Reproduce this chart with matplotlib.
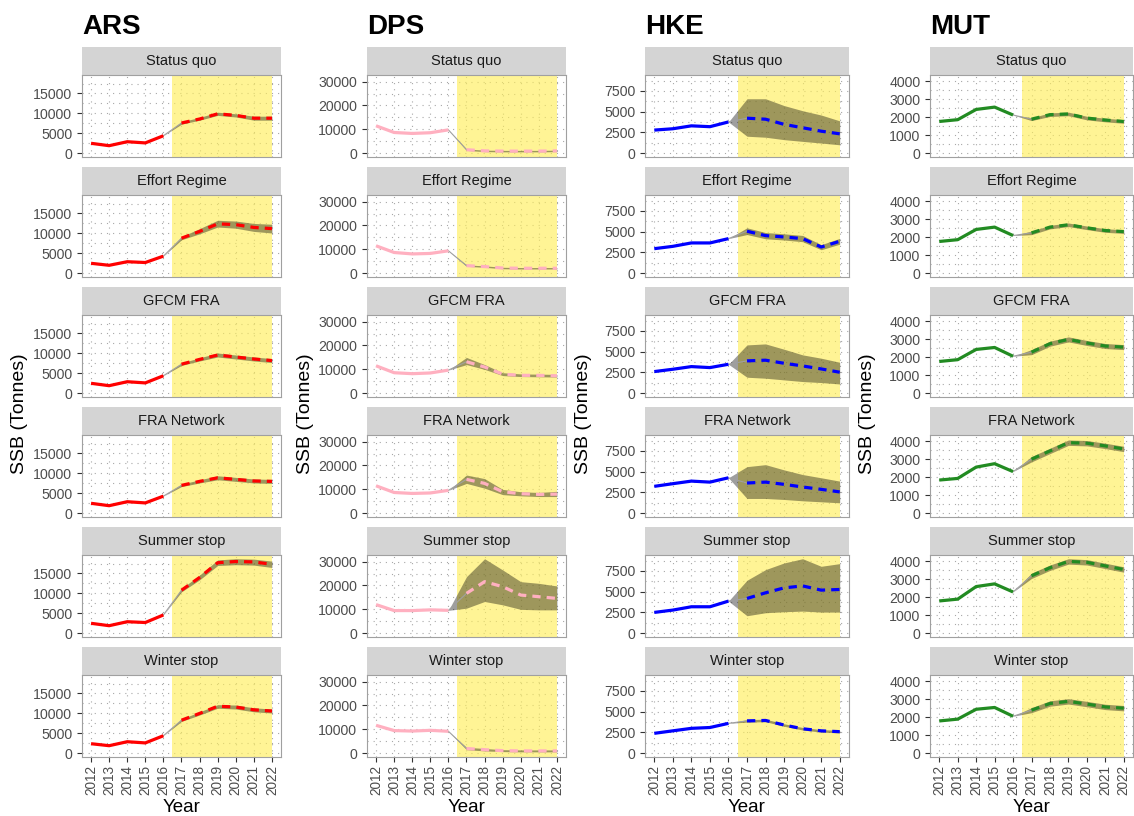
import matplotlib
matplotlib.use("Agg")
import matplotlib.pyplot as plt
import numpy as np

plt.rcParams['font.family'] = ['Liberation Sans', 'DejaVu Sans']

# ---------------- data ----------------
years_hist = [2012, 2013, 2014, 2015, 2016]
years_proj = [2017, 2018, 2019, 2020, 2021, 2022]
year_ticks = [2012, 2013, 2014, 2015, 2016, 2017, 2018, 2019, 2020, 2021, 2022]
scenarios = ["Status quo", "Effort Regime", "GFCM FRA", "FRA Network", "Summer stop", "Winter stop"]
species = ["ARS", "DPS", "HKE", "MUT"]
species_colors = ["#FF0000", "#FFB0C0", "#0000FF", "#228B22"]

# ARS (rows = scenarios)
ARS_hist = [[2500, 1900, 2900, 2600, 4400],
            [2500, 2000, 2900, 2700, 4300],
            [2500, 1900, 2900, 2600, 4400],
            [2500, 1900, 2900, 2600, 4300],
            [2500, 1900, 2900, 2700, 4600],
            [2400, 1900, 2900, 2600, 4400]]
ARS_mean = [[7600, 8600, 9900, 9500, 8800, 8800],
            [8800, 10500, 12400, 12200, 11500, 11200],
            [7300, 8500, 9600, 9100, 8600, 8200],
            [7000, 8000, 8900, 8500, 8100, 8000],
            [10800, 14000, 17700, 18000, 17900, 17300],
            [8300, 10000, 11800, 11600, 10900, 10600]]
ARS_lo = [[7300, 8300, 9500, 9100, 8300, 8300],
          [8400, 9900, 11600, 11300, 10500, 10100],
          [7000, 8100, 9100, 8600, 8100, 7700],
          [6700, 7600, 8400, 8000, 7600, 7500],
          [10400, 13400, 17000, 17200, 17100, 16500],
          [8000, 9600, 11300, 11100, 10400, 10100]]
ARS_hi = [[7900, 9000, 10300, 9900, 9300, 9300],
          [9200, 11200, 13300, 13100, 12500, 12300],
          [7600, 8900, 10100, 9600, 9100, 8700],
          [7300, 8400, 9400, 9000, 8600, 8500],
          [11200, 14600, 18400, 18700, 18600, 18100],
          [8600, 10400, 12200, 12100, 11400, 11100]]

# DPS
DPS_hist = [[11500, 8700, 8300, 8600, 9800],
            [11500, 8700, 8100, 8300, 9400],
            [11500, 8600, 8200, 8500, 9700],
            [11500, 8700, 8300, 8500, 9600],
            [12000, 9500, 9500, 9800, 9600],
            [11700, 9500, 9300, 9600, 9200]]
DPS_mean = [[1500, 1000, 900, 900, 900, 1000],
            [3200, 2800, 2200, 2100, 2100, 2100],
            [13200, 11000, 8000, 7500, 7500, 7300],
            [14200, 12500, 9000, 8200, 7900, 8000],
            [16700, 21600, 19500, 16000, 15300, 14600],
            [2000, 1500, 1100, 1000, 1000, 1000]]
DPS_lo = [[1200, 700, 600, 600, 600, 700],
          [2900, 2500, 1900, 1800, 1800, 1800],
          [12000, 10000, 7400, 7000, 6900, 6800],
          [12500, 10500, 7800, 7300, 7000, 7000],
          [10500, 13300, 11900, 10000, 9800, 9800],
          [1500, 1000, 700, 600, 600, 600]]
DPS_hi = [[1800, 1300, 1200, 1200, 1200, 1300],
          [3500, 3100, 2500, 2400, 2400, 2400],
          [15000, 12000, 8600, 8100, 8000, 7900],
          [16000, 14500, 10000, 9000, 8700, 9200],
          [23700, 31200, 26500, 21600, 20900, 19800],
          [2500, 2000, 1500, 1400, 1400, 1400]]

# HKE
HKE_hist = [[2790, 2950, 3300, 3200, 3770],
            [2960, 3240, 3650, 3650, 4170],
            [2610, 2890, 3210, 3090, 3490],
            [3240, 3560, 3870, 3750, 4270],
            [2510, 2790, 3190, 3190, 3870],
            [2400, 2700, 3000, 3100, 3600]]
HKE_mean = [[4220, 4100, 3480, 3070, 2660, 2340],
            [5060, 4530, 4370, 4170, 3160, 3850],
            [3900, 3980, 3610, 3290, 2930, 2530],
            [3640, 3750, 3480, 3160, 2880, 2570],
            [4190, 4870, 5460, 5700, 5190, 5270],
            [3900, 3950, 3400, 2950, 2700, 2600]]
HKE_lo = [[2050, 1930, 1640, 1430, 1230, 1020],
          [4660, 4150, 4000, 3800, 2830, 3500],
          [1930, 1810, 1610, 1410, 1290, 1120],
          [1780, 1780, 1660, 1500, 1380, 1260],
          [2110, 2470, 2590, 2670, 2550, 2550],
          [3750, 3800, 3250, 2800, 2550, 2450]]
HKE_hi = [[6560, 6560, 5740, 5120, 4600, 3900],
          [5470, 4900, 4750, 4550, 3440, 4200],
          [5820, 5940, 5300, 4620, 4220, 3730],
          [5610, 5850, 5220, 4660, 4270, 3870],
          [6380, 7660, 8460, 8970, 8060, 8380],
          [4050, 4100, 3550, 3100, 2850, 2750]]

# MUT
MUT_hist = [[1770, 1870, 2440, 2570, 2130],
            [1770, 1870, 2440, 2570, 2100],
            [1770, 1870, 2440, 2550, 2060],
            [1850, 1940, 2570, 2760, 2320],
            [1800, 1900, 2600, 2750, 2300],
            [1800, 1900, 2450, 2550, 2060]]
MUT_mean = [[1900, 2150, 2190, 1960, 1850, 1770],
            [2250, 2570, 2700, 2530, 2380, 2320],
            [2290, 2760, 3000, 2800, 2630, 2570],
            [3010, 3470, 3930, 3900, 3750, 3580],
            [3200, 3650, 4000, 3950, 3750, 3550],
            [2400, 2770, 2890, 2740, 2580, 2510]]
MUT_lo = [[1820, 2050, 2090, 1860, 1750, 1670],
          [2150, 2470, 2600, 2430, 2280, 2220],
          [2150, 2620, 2860, 2660, 2490, 2430],
          [2860, 3320, 3780, 3750, 3600, 3430],
          [3050, 3500, 3850, 3800, 3600, 3400],
          [2260, 2620, 2740, 2590, 2430, 2360]]
MUT_hi = [[1980, 2250, 2290, 2060, 1950, 1870],
          [2350, 2670, 2800, 2630, 2480, 2420],
          [2430, 2900, 3140, 2940, 2770, 2710],
          [3160, 3620, 4080, 4050, 3900, 3730],
          [3350, 3800, 4150, 4100, 3900, 3700],
          [2540, 2920, 3040, 2890, 2730, 2660]]

all_hist = [ARS_hist, DPS_hist, HKE_hist, MUT_hist]
all_mean = [ARS_mean, DPS_mean, HKE_mean, MUT_mean]
all_lo = [ARS_lo, DPS_lo, HKE_lo, MUT_lo]
all_hi = [ARS_hi, DPS_hi, HKE_hi, MUT_hi]
y_ticks = [[0, 5000, 10000, 15000],
           [0, 10000, 20000, 30000],
           [0, 2500, 5000, 7500],
           [0, 1000, 2000, 3000, 4000]]

# ---------------- layout (pixels) ----------------
W, H = 1134, 816
fig = plt.figure(figsize=(W / 100, H / 100), dpi=100)
fig.patch.set_facecolor("white")

col_left = [82, 367, 645, 930]
col_w = [199, 199, 204, 203]
row_top0 = 47
row_pitch = 120
strip_h = 28
plot_h = 82


def fax(x, y, w, h):
    return fig.add_axes([x / W, 1 - (y + h) / H, w / W, h / H])


for c, sp in enumerate(species):
    col = species_colors[c]
    hi_all = np.array(all_hi[c]).max()
    hist_all = np.array(all_hist[c]).max()
    ymax = max(hi_all, hist_all)
    ylim = (-0.05 * ymax, 1.05 * ymax)
    for r, sc in enumerate(scenarios):
        top = row_top0 + r * row_pitch
        # strip
        sax = fax(col_left[c], top, col_w[c], strip_h)
        sax.set_facecolor("#D4D4D4")
        sax.set_xticks([]); sax.set_yticks([])
        for s in sax.spines.values():
            s.set_visible(False)
        sax.text(0.5, 0.5, sc, ha="center", va="center", fontsize=10.5, color="#1A1A1A",
                 transform=sax.transAxes)

        ax = fax(col_left[c], top + strip_h, col_w[c], plot_h)
        ax.set_facecolor("white")
        ax.set_xlim(2011.5, 2022.5)
        ax.set_ylim(*ylim)
        ax.set_xticks(year_ticks)
        ax.set_yticks(y_ticks[c])
        yt = y_ticks[c]
        step = yt[1] - yt[0]
        ax.set_yticks([v + step / 2 for v in yt if v + step / 2 < ylim[1]], minor=True)
        ax.grid(True, which="both", axis="both", color="#A8A8A8", linestyle=(0, (1, 4.5)), linewidth=0.8)
        ax.set_axisbelow(True)
        ax.tick_params(axis="y", which="minor", length=0)
        ax.tick_params(axis="both", which="major", direction="out", length=3.5, width=0.8,
                       color="#333333", labelcolor="#4D4D4D", labelsize=10.2)
        for s in ax.spines.values():
            s.set_color("#A0A0A0")
            s.set_linewidth(0.8)

        ax.axvspan(2016.5, 2022, color="#FFEE55", alpha=0.62, lw=0, zorder=1.5)

        h = all_hist[c][r]
        m = all_mean[c][r]
        lo = all_lo[c][r]
        hi = all_hi[c][r]
        rx = [years_hist[-1]] + years_proj
        ax.fill_between(rx, [h[-1]] + lo, [h[-1]] + hi, color="black", alpha=0.38, lw=0, zorder=2)
        ax.plot([years_hist[-1], years_proj[0]], [h[-1], m[0]], color="#A0A0A0", lw=0.8, zorder=3)
        ax.plot(years_hist, h, color=col, lw=2.3, solid_capstyle="butt", zorder=4)
        ax.plot(years_proj, m, color=col, lw=2.3, dashes=(2.6, 1.9), zorder=4)

        if r == len(scenarios) - 1:
            ax.set_xticklabels([str(y) for y in year_ticks], rotation=90)
            ax.tick_params(axis="x", labelsize=9.8, pad=2)
        else:
            ax.tick_params(axis="x", which="both", length=0, labelbottom=False)

    # column title
    fig.text(col_left[c] / W, 1 - 34 / H, sp, fontsize=20, fontweight="bold", ha="left",
             va="baseline", color="black")
    # y label
    fig.text((col_left[c] - 62) / W, 1 - 414 / H, "SSB (Tonnes)", rotation=90, fontsize=14,
             ha="center", va="center", color="black")
    # x label
    fig.text((col_left[c] + col_w[c] / 2) / W, 1 - 807 / H, "Year", fontsize=13.5,
             ha="center", va="center", color="black")

fig.savefig("out.png", dpi=100, facecolor="white")
